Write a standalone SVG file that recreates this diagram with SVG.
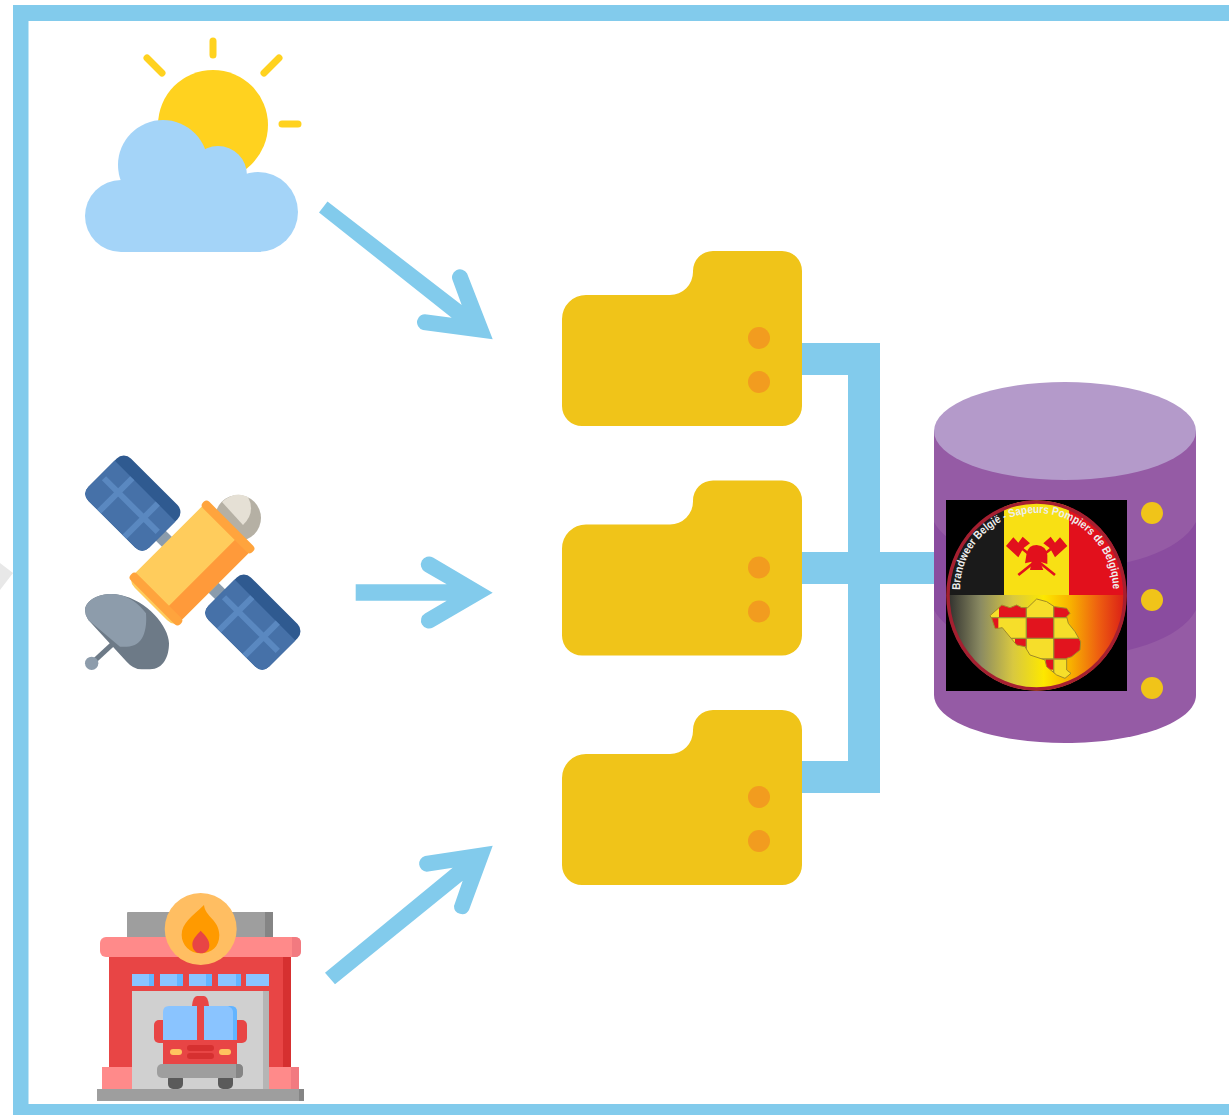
<svg xmlns="http://www.w3.org/2000/svg" width="1229" height="1115" viewBox="0 0 1229 1115">
<style>
.b{fill:#82cbec}
.fold{fill:#f0c419}
.dot{fill:#f29c1f}
.ydot{fill:#f0c419}
.lt{font-family:"Liberation Sans",Arial,sans-serif;font-weight:700;font-size:11.500px;fill:#eeeeee}
</style>
<defs>
<path id="folder" d="M562 319a24 24 0 0 1 24-24h84a23 23 0 0 0 23-23v-1a20 20 0 0 1 20-20h69a20 20 0 0 1 20 20v135a20 20 0 0 1-20 20h-200a20 20 0 0 1-20-20z"/>
<linearGradient id="lg" x1="0" x2="1" y1="0" y2="0"><stop offset="0" stop-color="#2a2a2a"/><stop offset=".19" stop-color="#8a8a62"/><stop offset=".37" stop-color="#d8c840"/><stop offset=".54" stop-color="#fde800"/><stop offset=".69" stop-color="#f8b000"/><stop offset=".84" stop-color="#ee6010"/><stop offset="1" stop-color="#d81818"/></linearGradient>
<clipPath id="cc"><ellipse cx="1036.500" cy="595.500" rx="90" ry="95"/></clipPath>
<clipPath id="mp"><polygon points="15,62 42,38 50,30 75,38 95,30 110,38 128,38 155,12 185,20 208,35 245,40 255,55 245,65 250,85 270,110 287,140 285,165 260,185 245,190 245,225 258,235 240,250 215,240 185,215 180,195 135,180 120,155 95,150 70,120 52,98 40,100 30,100 20,70"/></clipPath>
<path id="tp" d="M960 590A76.500 77 0 0 1 1113 590"/>
<g id="panel">
<rect x="-43" y="-30" width="86" height="60" rx="10" fill="#2f5a90"/>
<path d="M-43-17H43V20q0 10-10 10H-33q-10 0-10-10z" fill="#4671a8"/>
<path d="M-38 3H38M-18-17V30M18-17V30" stroke="#5a88c0" stroke-width="6" fill="none"/>
</g>
</defs>
<rect width="1229" height="1115" fill="#fff"/>
<polygon points="0,563 13,573 0,590" fill="#e8e8e8"/>
<path class="b" d="M13 5H1229V21H28.500V1104H1229V1115H13Z"/>

<g id="weather">
<path d="M213 41V55M147 58L162 73M279 58L264 73M282 124H298" stroke="#ffd21f" stroke-width="7" stroke-linecap="round"/>
<circle cx="213" cy="125" r="55" fill="#ffd21f"/>
<g fill="#a4d4f8"><circle cx="163" cy="165" r="45"/><circle cx="218" cy="175" r="29"/><circle cx="121" cy="216" r="36"/><circle cx="258" cy="212" r="40"/><rect x="121" y="180" width="140" height="72"/></g>
</g>

<g id="satellite">
<path d="M160 535L226 600" stroke="#8b9cac" stroke-width="14"/>
<g transform="translate(133 503) rotate(45)"><use href="#panel"/></g>
<g transform="translate(253 622) rotate(45)"><use href="#panel"/></g>
<circle cx="238" cy="518" r="23" fill="#b5b0a4"/>
<path d="M222 502Q235 490 248 497Q256 512 243 525z" fill="#e5e0d5"/>
<g transform="translate(192 563) rotate(-45)">
<path d="M-48-33H50V33H-48q-10 0-10-10V-23q0-10 10-10z" fill="#ffcc5c"/>
<path d="M-50 14H50V33H-46q-6 0-4-6z" fill="#ff9a3a"/>
<rect x="46.500" y="-35" width="9" height="70" rx="4" fill="#ffa43d"/>
<rect x="-55.500" y="-35" width="9" height="70" rx="4" fill="#ffa43d"/>
</g>
<g transform="translate(70 440) scale(.33333)">
<path d="M65 670L130 610" stroke="#6d7a87" stroke-width="15"/>
<circle cx="65" cy="670" r="20" fill="#8d9cab"/>
<path d="M45 510C50 470 110 455 150 465C230 480 297 560 297 610C297 650 280 688 240 688H215Q190 688 170 665L55 540Q45 525 45 510Z" fill="#6d7a87"/>
<path d="M45 510C50 470 110 455 150 465C180 472 205 490 228 520C232 570 220 620 170 620H150L55 540Q45 525 45 510Z" fill="#8d9cab"/>
</g>
</g>

<g id="station">
<rect x="127" y="912" width="146" height="26" rx="1" fill="#9e9e9e"/><rect x="265" y="912" width="8" height="26" fill="#858585"/>
<rect x="109" y="956" width="182" height="112" fill="#e84545"/><rect x="283" y="956" width="8" height="112" fill="#d63030"/>
<rect x="100" y="937" width="201" height="20" rx="6" fill="#ff8a8a"/><path d="M292 937h3q6 0 6 6v8q0 6-6 6h-3z" fill="#f27a80"/>
<circle cx="200.700" cy="929" r="36" fill="#ffbe62"/>
<g transform="translate(80 880) scale(.33333)">
<path d="M372 75C375 110 418 120 418 165C418 200 395 220 362 220C330 220 305 195 305 165C305 130 335 110 372 75Z" fill="#ff9a00"/>
<path d="M362 152C375 165 388 178 388 195C388 210 378 220 362 220C348 220 337 210 337 193C337 178 350 165 362 152Z" fill="#e84545"/>
</g>
<g fill="#8ac4ff"><rect x="132" y="974" width="22" height="12"/><rect x="160" y="974" width="23" height="12"/><rect x="189" y="974" width="23" height="12"/><rect x="218" y="974" width="23" height="12"/><rect x="246" y="974" width="23" height="12"/></g>
<g fill="#62b4ff"><rect x="149" y="974" width="5" height="12"/><rect x="177" y="974" width="6" height="12"/><rect x="206" y="974" width="6" height="12"/><rect x="236" y="974" width="5" height="12"/></g>
<rect x="132" y="991" width="137" height="98" fill="#d0d0d0"/><rect x="263" y="991" width="6" height="98" fill="#b5b5b5"/>
<rect x="102" y="1067" width="30" height="22" fill="#ff8a8a"/><rect x="269" y="1067" width="30" height="22" fill="#ff8a8a"/><rect x="291" y="1067" width="8" height="22" fill="#f27a80"/>
<rect x="97" y="1089" width="207" height="12" fill="#9e9e9e"/><rect x="299" y="1089" width="5" height="12" fill="#858585"/>
<rect x="154" y="1020" width="14" height="23" rx="5" fill="#e84545"/><rect x="232" y="1020" width="15" height="23" rx="5" fill="#e84545"/>
<path d="M192 1006Q193 996 197 996H204Q208 996 209 1006z" fill="#e84545"/>
<path d="M163 1040V1012Q163 1006 169 1006H231Q237 1006 237 1012V1040z" fill="#8ac4ff"/>
<path d="M231 1006Q237 1006 237 1012V1040H233V1012Q233 1008 228 1006z" fill="#62b4ff"/>
<rect x="197" y="1004" width="7" height="37" fill="#e84545"/>
<rect x="163" y="1040" width="74" height="25" fill="#e84545"/>
<g fill="#d63030"><rect x="187" y="1045" width="27" height="6" rx="3"/><rect x="187" y="1053" width="27" height="6" rx="3"/></g>
<g fill="#ffc35f"><rect x="170" y="1049" width="12" height="6" rx="3"/><rect x="219" y="1049" width="12" height="6" rx="3"/></g>
<rect x="168" y="1074" width="15" height="15" rx="5" fill="#5a5a5a"/><rect x="218" y="1074" width="15" height="15" rx="5" fill="#5a5a5a"/>
<rect x="157" y="1064" width="86" height="14" rx="5" fill="#9e9e9e"/><path d="M236 1064h2q5 0 5 5v4q0 5-5 5h-2z" fill="#858585"/>
</g>

<g id="connectors">
<path class="b" d="M327.500 201.500L461.700 305L452.900 281A8 8 0 0 1 467.100 273.600L492.700 339.300L423 330A8 8 0 0 1 427 314.500L451.700 317.700L319 212.500Z"/>
<path class="b" d="M355.700 584.300H446.700L425 571.700A8 8 0 0 1 433 557.500L492.700 592.700L433 627.500A8 8 0 0 1 425 613.500L446.700 600.700H355.700Z"/>
<path class="b" d="M325 972.700L452.700 867.700L426.700 871.700A8 8 0 0 1 425 856L492.700 845.700L469 910A8 8 0 0 1 454 906L462.700 880.700L335 984.300Z"/>
<path class="b" d="M802 343H880V552H934V584H880V793H802V761H848V584H802V552H848V375H802z"/>
</g>

<g id="folder1"><use href="#folder" class="fold"/><circle class="dot" cx="759" cy="338" r="11"/><circle class="dot" cx="759" cy="382" r="11"/></g>
<g id="folder2" transform="translate(0 229.500)"><use href="#folder" class="fold"/><circle class="dot" cx="759" cy="338" r="11"/><circle class="dot" cx="759" cy="382" r="11"/></g>
<g id="folder3" transform="translate(0 459)"><use href="#folder" class="fold"/><circle class="dot" cx="759" cy="338" r="11"/><circle class="dot" cx="759" cy="382" r="11"/></g>

<g id="database">
<path d="M934 431V695C934 722 993 743 1065 743C1137 743 1196 722 1196 695V431z" fill="#955ba5"/>
<path d="M934 522C950 552 1010 569 1065 569C1125 569 1180 552 1196 522V610C1180 640 1125 657 1065 657C1010 657 950 640 934 610z" fill="#8a4c9f"/>
<ellipse cx="1065" cy="431" rx="131" ry="49" fill="#b49aca"/>
<circle class="ydot" cx="1152" cy="513" r="11"/><circle class="ydot" cx="1152" cy="600" r="11"/><circle class="ydot" cx="1152" cy="688" r="11"/>
<rect x="946" y="500" width="181" height="191" fill="#000"/>
<g clip-path="url(#cc)">
<rect x="946" y="500" width="58" height="95" fill="#1a1a1a"/>
<rect x="1004" y="500" width="65" height="95" fill="#f8e014"/>
<rect x="1069" y="500" width="58" height="95" fill="#e2101c"/>
<rect x="946" y="595" width="181" height="96" fill="url(#lg)"/>
</g>
<ellipse cx="1036.500" cy="595.500" rx="88.500" ry="93.500" fill="none" stroke="#a51f30" stroke-width="3.500"/>
<g transform="translate(990 520) scale(.33333)" fill="#e2101c">
<path d="M95 85L195 165M185 85L85 165" stroke="#e2101c" stroke-width="8"/>
<path d="M70 52L85 68L98 50L120 70L100 85L85 112L48 78Z"/>
<path d="M210 52L195 68L182 50L160 70L180 85L195 112L232 78Z"/>
<path d="M110 100Q115 75 140 75Q170 78 172 105V132L150 125L160 150H120L125 125L105 130Z"/>
</g>
<g transform="translate(985 595) scale(.33333)">
<g clip-path="url(#mp)">
<rect x="0" y="0" width="300" height="260" fill="#f6de2a"/>
<g fill="#e2141e"><rect x="42" y="20" width="82" height="48"/><rect x="124" y="68" width="82" height="62"/><rect x="206" y="25" width="60" height="43"/><rect x="206" y="130" width="90" height="62"/><rect x="10" y="68" width="30" height="40"/><rect x="90" y="130" width="34" height="25"/><rect x="182" y="192" width="24" height="32"/></g>
<path d="M124 25V180M206 10V240M10 68H262M60 130H290M130 192H260" stroke="#a09030" stroke-width="4" fill="none"/>
</g>
<polygon points="15,62 42,38 50,30 75,38 95,30 110,38 128,38 155,12 185,20 208,35 245,40 255,55 245,65 250,85 270,110 287,140 285,165 260,185 245,190 245,225 258,235 240,250 215,240 185,215 180,195 135,180 120,155 95,150 70,120 52,98 40,100 30,100 20,70" fill="none" stroke="#a08a28" stroke-width="3"/>
</g>
<text class="lt"><textPath href="#tp" textLength="240" lengthAdjust="spacingAndGlyphs">Brandweer België - Sapeurs Pompiers de Belgique</textPath></text>
</g>
</svg>
